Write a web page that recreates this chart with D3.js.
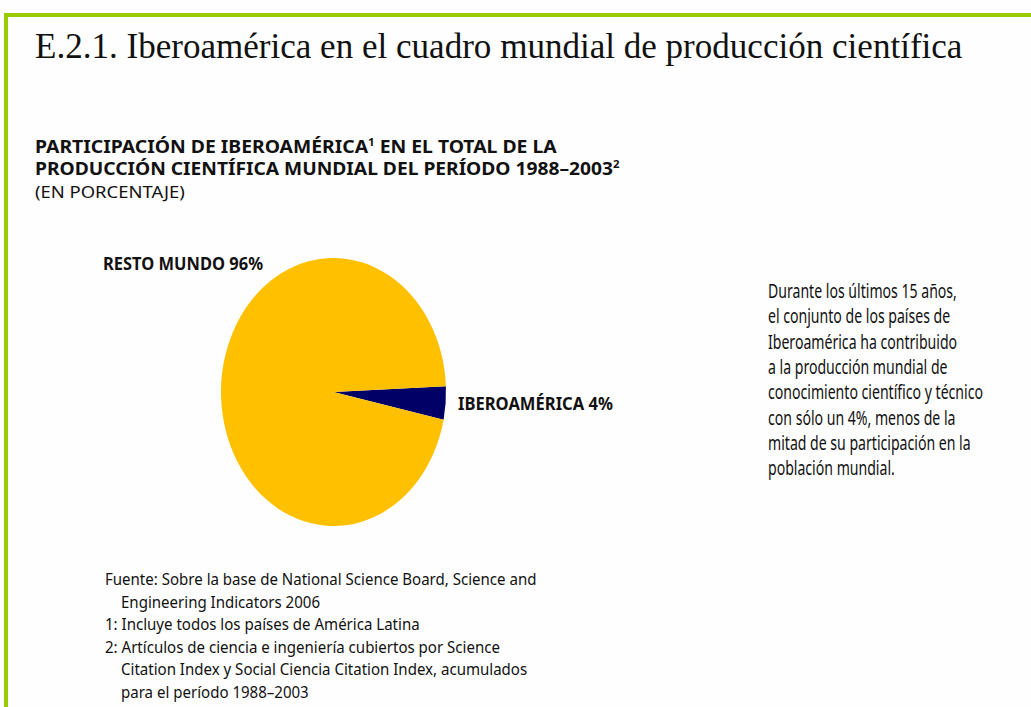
<!DOCTYPE html>
<html>
<head>
<meta charset="utf-8">
<script src="https://cdn.jsdelivr.net/npm/d3@7"></script>
<style>
  html, body { margin: 0; padding: 0; background: #fefefe; }
  svg { display: block; }
  .sans { font-family: "Noto Sans", "Open Sans", "DejaVu Sans", sans-serif; fill: #111; }
  .serif { font-family: "Liberation Serif", "DejaVu Serif", serif; fill: #111; }
</style>
</head>
<body>
<script>
// ---- data ----
const categories = ["IBEROAMÉRICA", "RESTO MUNDO"];
const values = [4, 96];
const sliceColors = ["#000066", "#FFC000"];

const titleText = "E.2.1. Iberoamérica en el cuadro mundial de producción científica";
const subtitleLines = [
  [["PARTICIPACIÓN DE IBEROAMÉRICA", false], ["1", true], [" EN EL TOTAL DE LA", false]],
  [["PRODUCCIÓN CIENTÍFICA MUNDIAL DEL PERÍODO 1988–2003", false], ["2", true]]
];
const unitText = "(EN PORCENTAJE)";
const sideText = [
  "Durante los últimos 15 años,",
  "el conjunto de los países de",
  "Iberoamérica ha contribuido",
  "a la producción mundial de",
  "conocimiento científico y técnico",
  "con sólo un 4%, menos de la",
  "mitad de su participación en la",
  "población mundial."
];
const notes = [
  ["Fuente: Sobre la base de National Science Board, Science and", 0],
  ["Engineering Indicators 2006", 1],
  ["1: Incluye todos los países de América Latina", 0],
  ["2: Artículos de ciencia e ingeniería cubiertos por Science", 0],
  ["Citation Index y Social Ciencia Citation Index, acumulados", 1],
  ["para el período 1988–2003", 1]
];

// ---- layout ----
const W = 1031, H = 707;
const svg = d3.select("body").append("svg").attr("width", W).attr("height", H);
svg.append("rect").attr("width", W).attr("height", H).attr("fill", "#fefefe");

// place a text element at (x, y) horizontally scaled so its width is `w`
function fitTo(node, x, y, k) {
  d3.select(node).attr("x", 0).attr("y", 0)
    .attr("transform", `translate(${x},${y}) scale(${k},1)`);
}

// green frame (top and left)
const green = "#99CC00";
svg.append("rect").attr("x", 4).attr("y", 13).attr("width", W - 4).attr("height", 4).attr("fill", green);
svg.append("rect").attr("x", 4).attr("y", 13).attr("width", 4).attr("height", H - 13).attr("fill", green);

// title
const title = svg.append("text").attr("class", "serif").attr("font-size", 36).text(titleText);
fitTo(title.node(), 35, 58, 928 / title.node().getComputedTextLength());

// subtitle
const subY = [153, 175];
const subTarget = [522, 585];
svg.selectAll("text.sub").data(subtitleLines).join("text")
  .attr("class", "sans sub")
  .attr("font-size", 17).attr("font-weight", "bold")
  .each(function (parts, i) {
    const t = d3.select(this);
    parts.forEach(([s, sup], j) => {
      const ts = t.append("tspan").text(s);
      if (sup) ts.attr("font-size", 10).attr("dy", -7);
      else if (j > 0 && parts[j - 1][1]) ts.attr("dy", 7);
    });
    fitTo(this, 35, subY[i], subTarget[i] / this.getComputedTextLength());
  });

const unit = svg.append("text").attr("class", "sans").attr("font-size", 17).text(unitText);
fitTo(unit.node(), 35, 198, 150 / unit.node().getComputedTextLength());

// pie (elliptical)
const cx = 333.5, cy = 392, rx = 112.5, ry = 134;
const startA = 87.5 * Math.PI / 180;
const pie = d3.pie().sort(null).startAngle(startA).endAngle(startA + 2 * Math.PI);
const arcs = pie(values);
const arc = d3.arc().innerRadius(0).outerRadius(rx);
const g = svg.append("g").attr("transform", `translate(${cx},${cy}) scale(1,${ry / rx})`);
g.selectAll("path").data(arcs).join("path")
  .attr("d", arc)
  .attr("fill", (d, i) => sliceColors[i]);

// labels
const labelPos = [
  { x: 458, y: 410, w: 155 },
  { x: 103, y: 270, w: 160 }
];
svg.selectAll("text.lbl").data(arcs).join("text")
  .attr("class", "sans lbl")
  .attr("font-size", 18).attr("font-weight", "bold")
  .text((d, i) => `${categories[i]} ${values[i]}%`)
  .each(function (d, i) {
    fitTo(this, labelPos[i].x, labelPos[i].y, labelPos[i].w / this.getComputedTextLength());
  });

// side text (uniform condensing, keep widest line inside the page)
const sideSel = svg.selectAll("text.side").data(sideText).join("text")
  .attr("class", "sans side")
  .attr("font-size", 19.5)
  .text(d => d);
const sideNat = sideSel.nodes().map(n => n.getComputedTextLength());
let kSide = 189 / sideNat[0];
kSide = Math.min(kSide, (1029 - 768) / d3.max(sideNat));
sideSel.each(function (d, i) { fitTo(this, 768, 298 + i * 25.3, kSide); });

// footnotes
const noteSel = svg.selectAll("text.note").data(notes).join("text")
  .attr("class", "sans note")
  .attr("font-size", 16)
  .text(d => d[0]);
const kNote = 432 / noteSel.nodes()[0].getComputedTextLength();
noteSel.each(function (d, i) { fitTo(this, d[1] ? 121 : 105, 585 + i * 22.6, kNote); });
</script>
</body>
</html>
